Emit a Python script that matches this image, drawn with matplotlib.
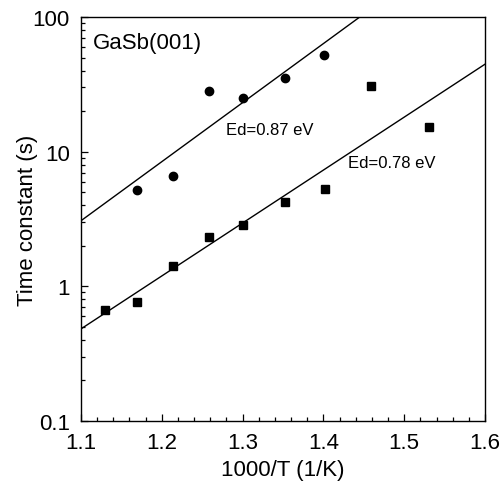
import numpy as np
import matplotlib
matplotlib.use("Agg")
import matplotlib.pyplot as plt
from matplotlib.ticker import LogLocator, MultipleLocator, FixedFormatter, FixedLocator

plt.rcParams['font.family'] = ['Liberation Sans', 'DejaVu Sans']

# circles
x_circ = [1.169, 1.214, 1.258, 1.300, 1.352, 1.401]
tau_circ = [5.2, 6.6, 28.4, 25.2, 35.0, 52.5]

# squares
x_sq = [1.130, 1.169, 1.214, 1.259, 1.301, 1.353, 1.402, 1.459, 1.531]
tau_sq = [0.67, 0.76, 1.42, 2.31, 2.86, 4.2, 5.3, 30.7, 15.3]

# Arrhenius fit lines: activation energy (eV) and tau at 1000/T = 1.1
Ed = [0.87, 0.78]
tau_at_11 = [3.07, 0.483]
fit_labels = ["Ed=0.87 eV", "Ed=0.78 eV"]

k_B = 8.617e-5

fig = plt.figure(figsize=(5.03, 4.85), dpi=100)
ax = fig.add_axes([81 / 503, 1 - 422 / 485, 404 / 503, 404 / 485])

xx = np.linspace(1.1, 1.6, 200)
for e, t0 in zip(Ed, tau_at_11):
    slope = e / (k_B * np.log(10) * 1000)
    ax.plot(xx, t0 * 10 ** (slope * (xx - 1.1)), color='black', lw=1.0)

ax.plot(x_circ, tau_circ, 'o', color='black', ms=6)
ax.plot(x_sq, tau_sq, 's', color='black', ms=5.5)

ax.set_yscale('log')
ax.set_xlim(1.1, 1.6)
ax.set_ylim(0.1, 100)

ax.xaxis.set_major_locator(MultipleLocator(0.1))
ax.xaxis.set_minor_locator(MultipleLocator(0.02))
ax.yaxis.set_major_locator(FixedLocator([0.1, 1, 10, 100]))
ax.yaxis.set_major_formatter(FixedFormatter(["0.1", "1", "10", "100"]))
ax.yaxis.set_minor_locator(LogLocator(base=10, subs=np.arange(2, 10)))
ax.yaxis.set_minor_formatter(plt.NullFormatter())

ax.tick_params(which='both', direction='in', top=False, right=False,
               labelsize=16, width=0.9)
ax.tick_params(which='major', length=5, pad=8)
ax.tick_params(which='minor', length=3)
for s in ax.spines.values():
    s.set_linewidth(1.0)

ax.set_xlabel("1000/T (1/K)", fontsize=16, labelpad=4)
ax.set_ylabel("Time constant (s)", fontsize=16, labelpad=-3.5)

ax.text(1.115, 65, "GaSb(001)", fontsize=16, va='center')
ax.text(1.280, 14.5, fit_labels[0], fontsize=12, va='center')
ax.text(1.430, 8.3, fit_labels[1], fontsize=12, va='center')

fig.savefig("out.png", dpi=100)
